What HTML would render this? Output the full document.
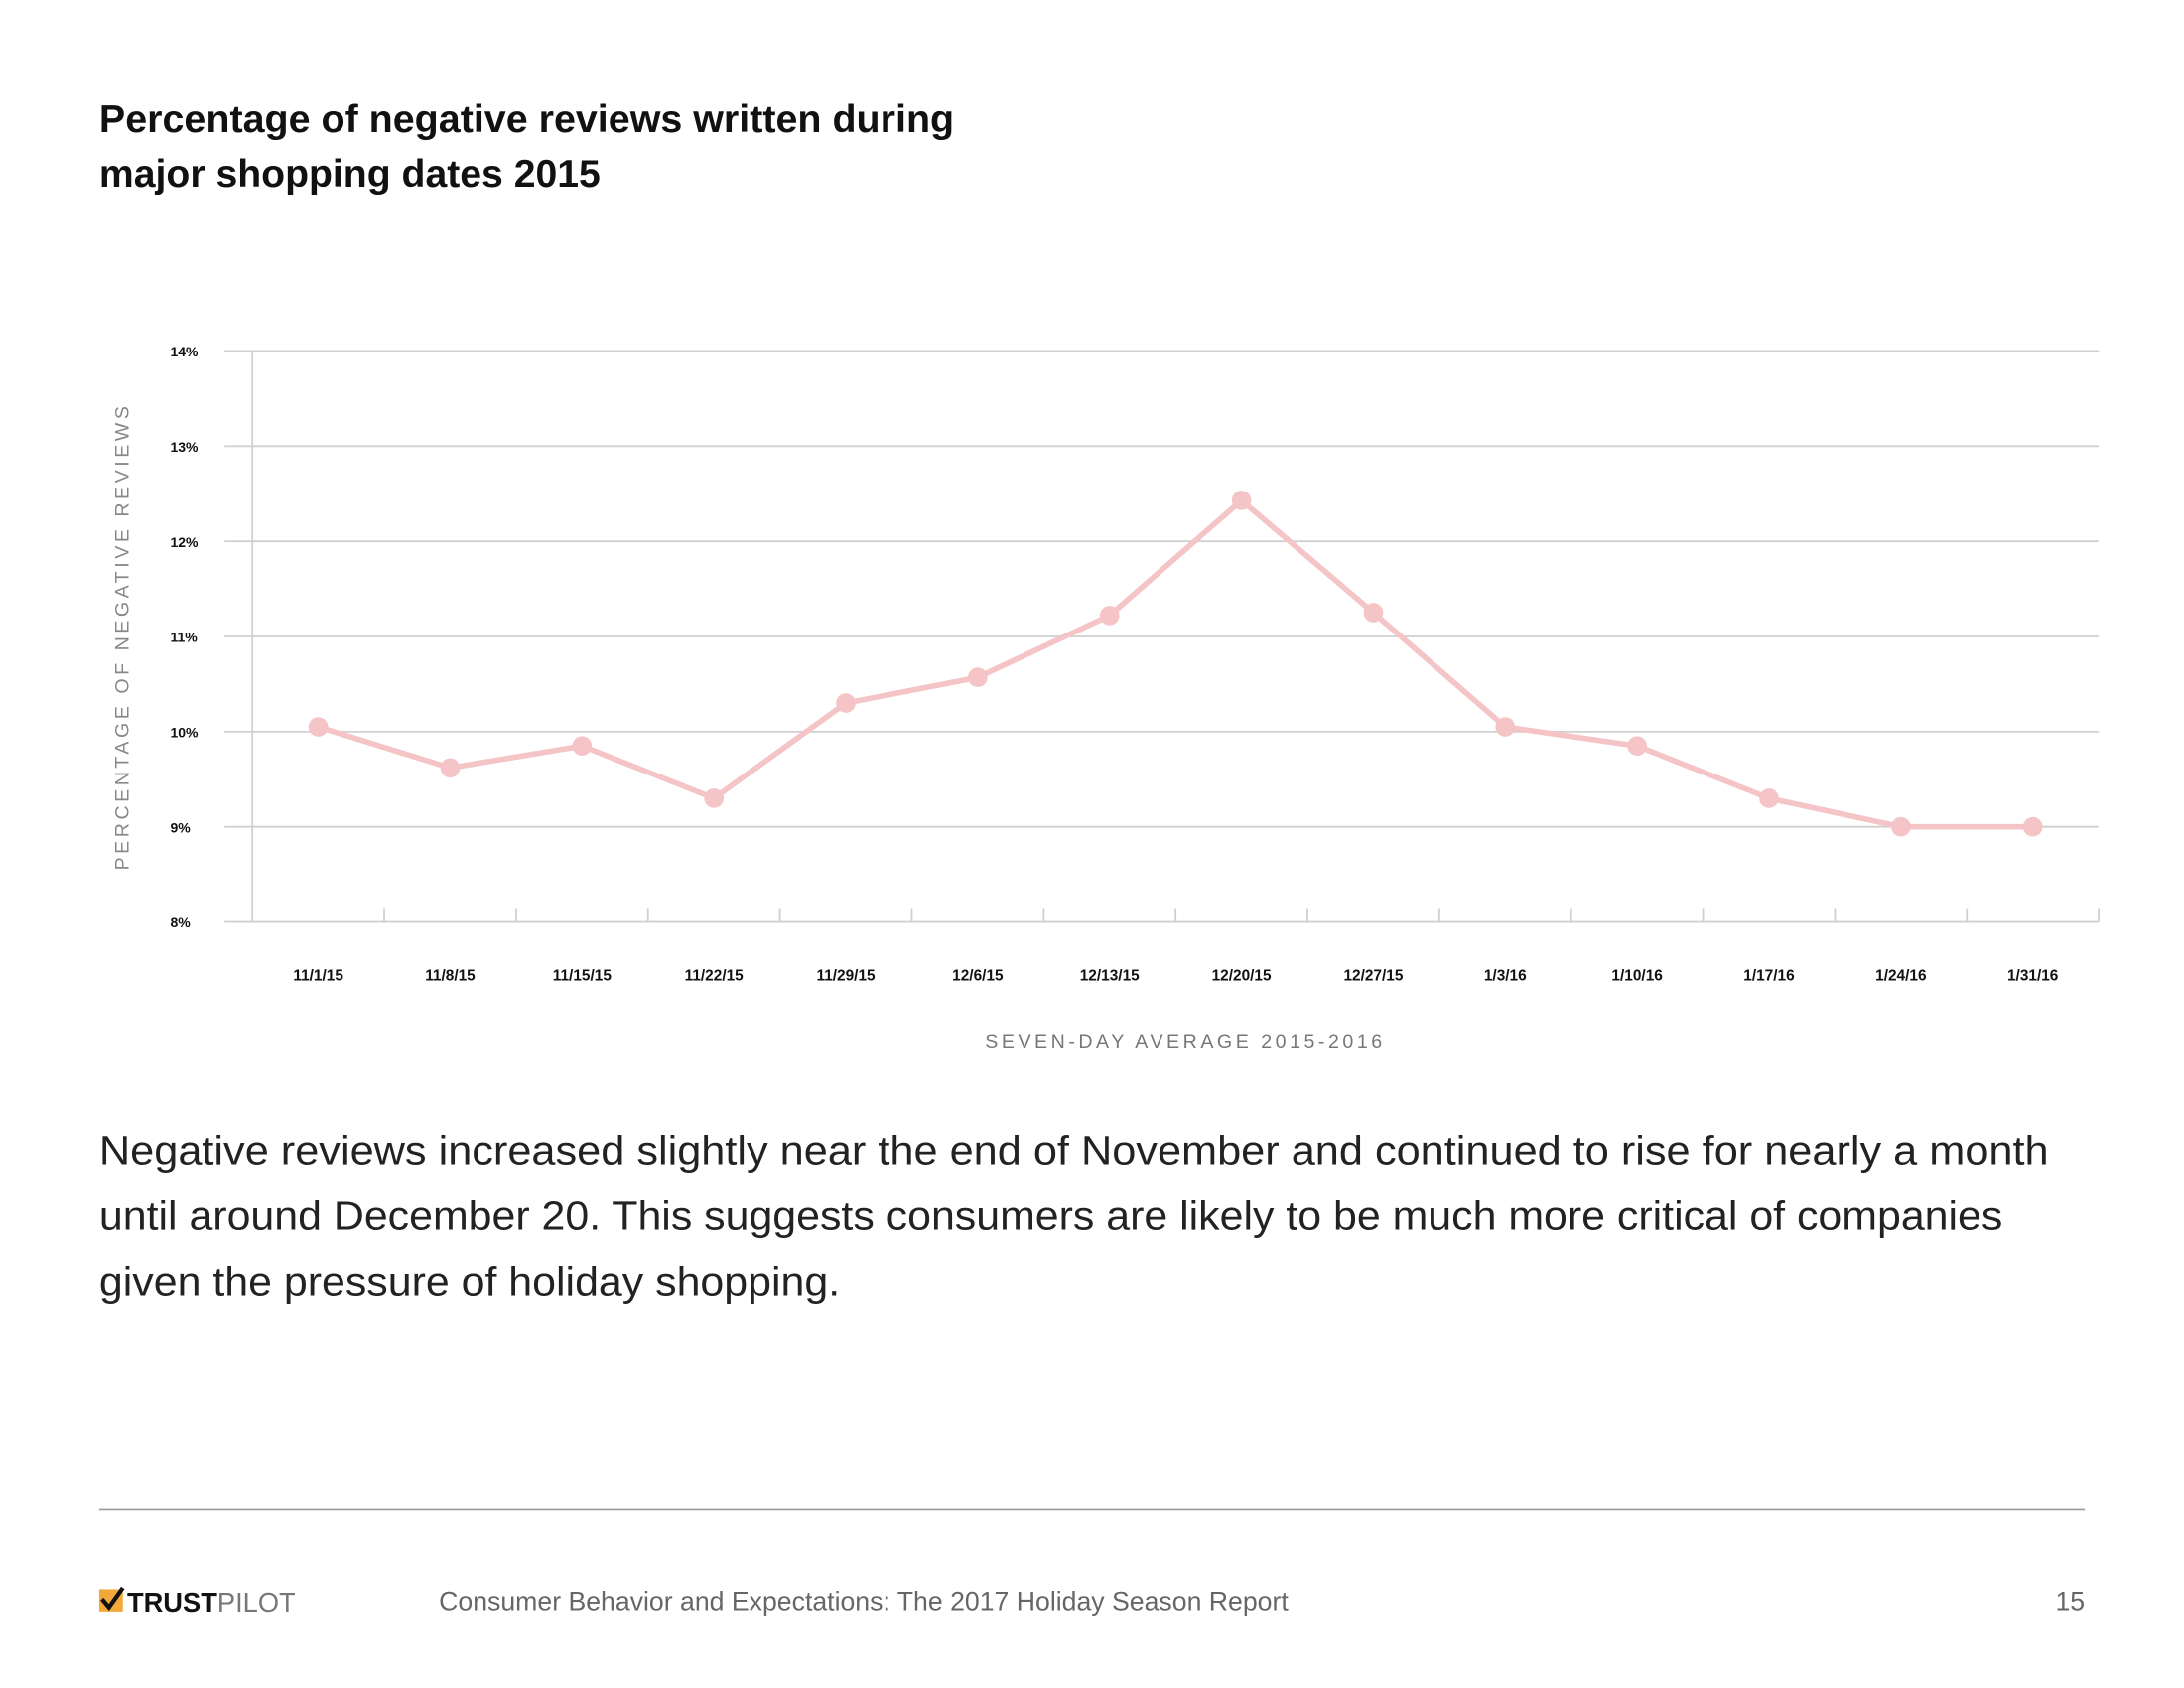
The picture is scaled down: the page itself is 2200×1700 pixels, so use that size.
<!DOCTYPE html>
<html><head><meta charset="utf-8"><style>
html,body{margin:0;padding:0;background:#fff;}
svg{display:block;font-family:"Liberation Sans",sans-serif;}
</style></head><body>
<svg width="2200" height="1700" viewBox="0 0 1568 1212">
<text x="71" y="95" font-size="28" font-weight="bold" fill="#111" textLength="614" lengthAdjust="spacingAndGlyphs">Percentage of negative reviews written during</text>
<text x="71" y="134" font-size="28" font-weight="bold" fill="#111" textLength="360" lengthAdjust="spacingAndGlyphs">major shopping dates 2015</text>
<g id="chart"></g>
<text x="851" y="752" font-size="14" fill="#777" text-anchor="middle" letter-spacing="2.5">SEVEN-DAY AVERAGE 2015-2016</text>
<text transform="translate(92,457) rotate(-90)" font-size="14" fill="#888" text-anchor="middle" letter-spacing="2.5">PERCENTAGE OF NEGATIVE REVIEWS</text>
<g fill="#222" font-size="29">
<text x="71" y="836" textLength="1400" lengthAdjust="spacingAndGlyphs">Negative reviews increased slightly near the end of November and continued to rise for nearly a month</text>
<text x="71" y="883" textLength="1367" lengthAdjust="spacingAndGlyphs">until around December 20. This suggests consumers are likely to be much more critical of companies</text>
<text x="71" y="930" textLength="532" lengthAdjust="spacingAndGlyphs">given the pressure of holiday shopping.</text>
</g>
<line x1="71" y1="1084" x2="1497" y2="1084" stroke="#999" stroke-width="1.2"/>
<g>
<rect x="71" y="1141" width="17" height="16" fill="#f2a83b"/>
<path d="M73 1148 L78 1154 L88 1140" stroke="#111" stroke-width="3" fill="none"/>
<text x="91" y="1157" font-size="20" font-weight="bold" fill="#111" textLength="121" lengthAdjust="spacingAndGlyphs">TRUST<tspan fill="#777" font-weight="normal">PILOT</tspan></text>
</g>
<text x="315" y="1156" font-size="19" fill="#666" textLength="610" lengthAdjust="spacingAndGlyphs">Consumer Behavior and Expectations: The 2017 Holiday Season Report</text>
<text x="1497" y="1156" font-size="19" fill="#666" text-anchor="end">15</text>
</svg>
<script>
const categories = ["11/1/15","11/8/15","11/15/15","11/22/15","11/29/15","12/6/15","12/13/15","12/20/15","12/27/15","1/3/16","1/10/16","1/17/16","1/24/16","1/31/16"];
const values = [10.05, 9.62, 9.85, 9.3, 10.3, 10.57, 11.22, 12.43, 11.25, 10.05, 9.85, 9.3, 9.0, 9.0];
const yTicks = [8, 9, 10, 11, 12, 13, 14];
const yTickLabels = ["8%","9%","10%","11%","12%","13%","14%"];

const NS = "http://www.w3.org/2000/svg";
const g = document.getElementById("chart");
const X0 = 181, X1 = 1507, Y0 = 662, Y1 = 252, YMIN = 8, YMAX = 14;
const band = (X1 - X0) / categories.length;
function xScale(i){ return X0 + band * (i + 0.5); }
function yScale(v){ return Y0 - (v - YMIN) / (YMAX - YMIN) * (Y0 - Y1); }
function mk(tag, attrs){ const e = document.createElementNS(NS, tag); for (const k in attrs) e.setAttribute(k, attrs[k]); g.appendChild(e); return e; }

yTicks.forEach((t, i) => {
  const l = mk("line", {x1: 161, x2: X1, y1: yScale(t), y2: yScale(t), stroke: "#d0d0d0", "stroke-width": 1.3});
  
  
  const tx = mk("text", {x: 122, y: yScale(t) + 4, "font-size": 10, "font-weight": "bold", fill: "#111"});
  tx.textContent = yTickLabels[i];
  
  
});
const ax = mk("line", {x1: X0, x2: X0, y1: Y1, y2: Y0, stroke: "#d0d0d0", "stroke-width": 1.3});


for (let i = 1; i <= categories.length; i++) {
  const x = X0 + band * i;
  const tk = mk("line", {x1: x, x2: x, y1: Y0 - 10, y2: Y0, stroke: "#d0d0d0", "stroke-width": 1.3});
  
  
}
categories.forEach((c, i) => {
  const tx = mk("text", {x: xScale(i), y: 704, "font-size": 11, "font-weight": "bold", fill: "#111", "text-anchor": "middle"});
  tx.textContent = c;
  
  
});
const pts = values.map((v, i) => xScale(i) + "," + yScale(v)).join(" ");
const line = mk("polyline", {points: pts, fill: "none", stroke: "#f4c4c6", "stroke-width": 4, "stroke-linejoin": "round"});


values.forEach((v, i) => {
  const c = mk("circle", {cx: xScale(i), cy: yScale(v), r: 7, fill: "#f4c4c6"});
  
  
});
</script>
</body></html>
